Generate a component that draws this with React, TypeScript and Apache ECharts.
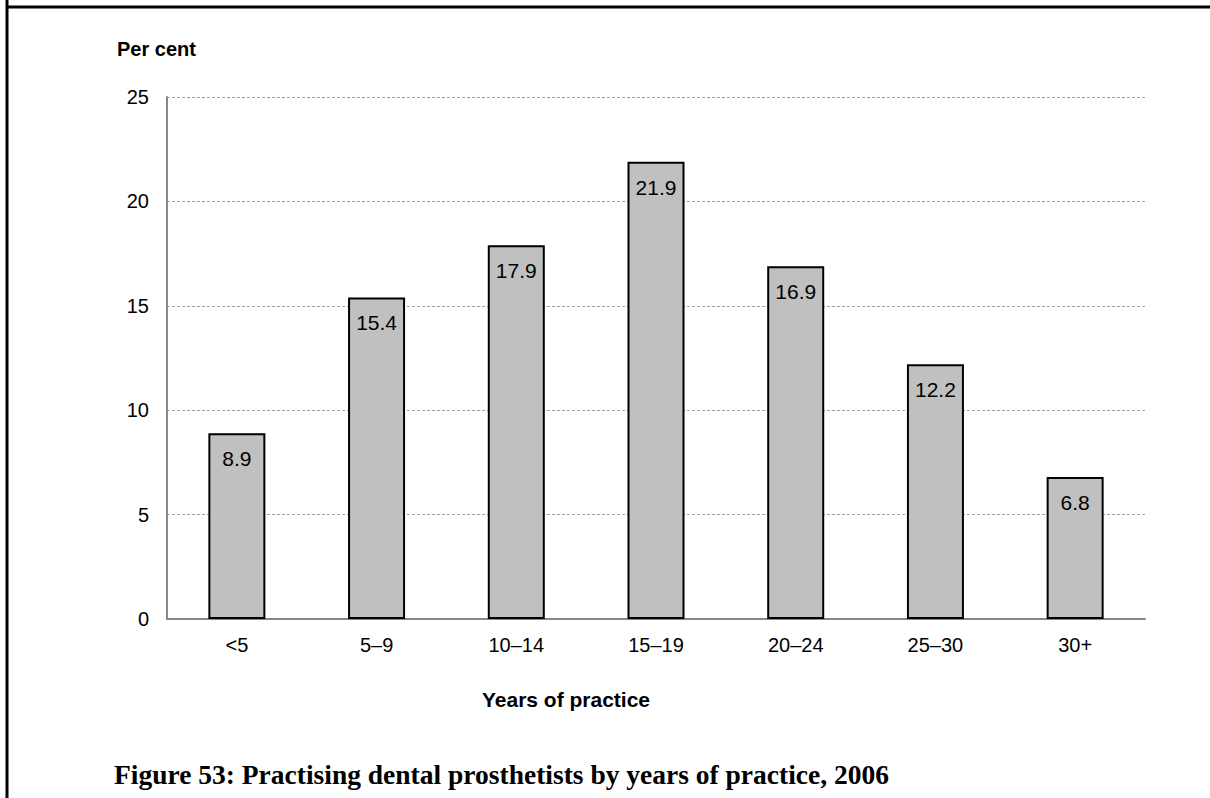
import React, { useEffect, useRef } from "react";
import * as echarts from "echarts";

const categories = ["<5", "5–9", "10–14", "15–19", "20–24", "25–30", "30+"];
const values = [8.9, 15.4, 17.9, 21.9, 16.9, 12.2, 6.8];
const yTicks = { min: 0, max: 25, interval: 5 };
const yAxisTitle = "Per cent";
const xAxisTitle = "Years of practice";
const caption = "Figure 53: Practising dental prosthetists by years of practice, 2006";

const SANS = "'Liberation Sans', Arial, Helvetica, sans-serif";
const SERIF = "'Liberation Serif', 'DejaVu Serif', serif";

export default function App() {
  const ref = useRef<HTMLDivElement>(null);
  useEffect(() => {
    if (!ref.current) return;
    const chart = echarts.init(ref.current, undefined, { renderer: "svg" });
    chart.setOption({
      animation: false,
      backgroundColor: "#ffffff",
      grid: { left: 167, right: 65, top: 97, bottom: 179, containLabel: false },
      xAxis: {
        type: "category",
        data: categories,
        axisLine: { show: true, lineStyle: { color: "#888888", width: 2 } },
        axisTick: { show: false },
        axisLabel: { color: "#000", fontSize: 20, fontFamily: SANS, margin: 16 },
        splitLine: { show: false },
      },
      yAxis: {
        type: "value",
        min: yTicks.min,
        max: yTicks.max,
        interval: yTicks.interval,
        axisLine: { show: true, lineStyle: { color: "#888888", width: 2 } },
        axisTick: { show: false },
        axisLabel: { color: "#000", fontSize: 20, fontFamily: SANS, margin: 18 },
        splitLine: { show: true, lineStyle: { color: "#a0a0a0", width: 1, type: [3, 2] } },
      },
      series: [
        {
          type: "bar",
          data: values,
          barWidth: 57,
          itemStyle: { color: "#c0c0c0", borderColor: "#000000", borderWidth: 2 },
          label: {
            show: true,
            position: "insideTop",
            distance: 15,
            color: "#000",
            fontSize: 21,
            fontFamily: SANS,
            formatter: (p: any) => p.value.toFixed(1),
          },
        },
      ],
      graphic: [
        { type: "line", shape: { x1: 7, y1: 0, x2: 7, y2: 798 }, style: { stroke: "#000", lineWidth: 3 } },
        { type: "line", shape: { x1: 7, y1: 7, x2: 1210, y2: 7 }, style: { stroke: "#000", lineWidth: 3 } },
        {
          type: "text",
          x: 117,
          y: 49,
          style: { text: yAxisTitle, fill: "#000", font: `bold 20px ${SANS}`, textVerticalAlign: "middle", textAlign: "left" },
        },
        {
          type: "text",
          x: 566,
          y: 699,
          style: { text: xAxisTitle, fill: "#000", font: `bold 21px ${SANS}`, textVerticalAlign: "middle", textAlign: "center" },
        },
        {
          type: "text",
          x: 114,
          y: 774,
          style: { text: caption, fill: "#000", font: `bold 27.5px ${SERIF}`, textVerticalAlign: "middle", textAlign: "left" },
        },
      ],
    });
    return () => chart.dispose();
  }, []);
  return (
    <div
      ref={ref}
      style={{ position: "absolute", left: 0, top: 0, width: 1210, height: 798 }}
    />
  );
}
